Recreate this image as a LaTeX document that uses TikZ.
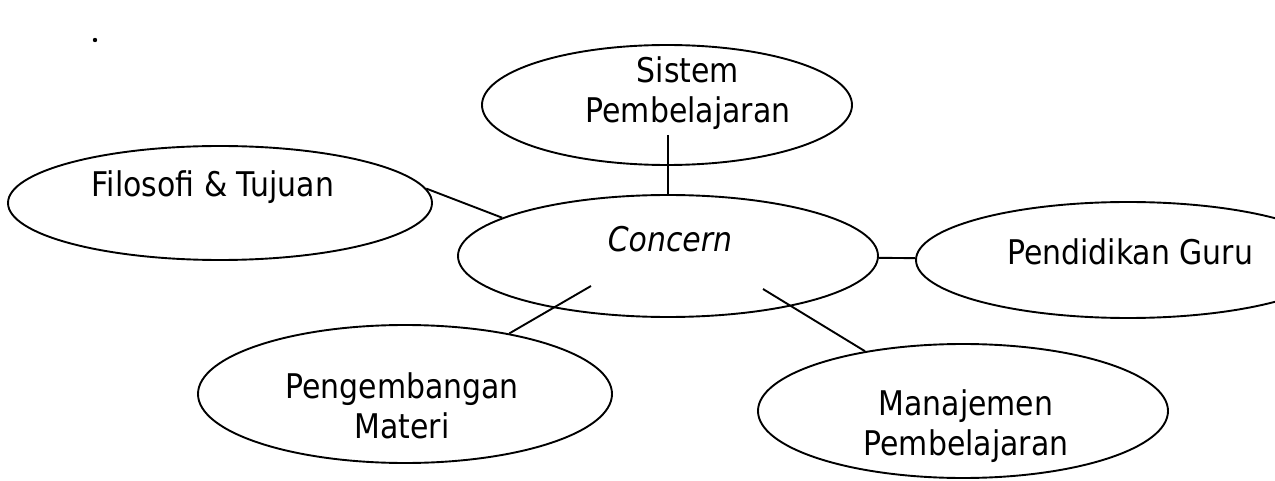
\documentclass[tikz,border=0pt]{standalone}
\usepackage{fontspec}
\setmainfont{DejaVu Sans}[FakeStretch=0.88]
\usetikzlibrary{shapes.geometric}
\begin{document}
\begin{tikzpicture}[x=1pt,y=-1pt,
  bub/.style={draw=black, line width=1.9pt, ellipse, inner sep=0pt},
  txt/.style={inner sep=0pt, align=center, font=\fontsize{34}{40}\selectfont, text=black},
  link/.style={draw=black, line width=1.9pt}]
\useasboundingbox (0,0) rectangle (1275,481);
\clip (0,0) rectangle (1275,481);
\fill[white] (0,0) rectangle (1275,481);
% bubbles
\node[bub, minimum width=370pt, minimum height=120pt] (sis) at (667,105) {};
\node[bub, minimum width=424pt, minimum height=114pt] (fil) at (220,203) {};
\node[bub, minimum width=420pt, minimum height=122pt] (con) at (668,256) {};
\node[bub, minimum width=424pt, minimum height=116pt] (pend) at (1128,260) {};
\node[bub, minimum width=414pt, minimum height=138pt] (pen) at (405,394) {};
\node[bub, minimum width=410pt, minimum height=134pt] (man) at (963,411) {};
% texts (base = baseline of the last line)
\node[txt, anchor=base] (tsis) at (688,123) {Sistem\\Pembelajaran};
\node[txt, anchor=base] (tfil) at (213,197) {Filosofi \& Tujuan};
\node[txt, anchor=base] (tcon) at (670,252) {\itshape Concern};
\node[txt, anchor=base] (tpend) at (1130,265) {Pendidikan Guru};
\node[txt, anchor=base] (tpen) at (402,438) {Pengembangan\\Materi};
\node[txt, anchor=base] (tman) at (966,455) {Manajemen\\Pembelajaran};
% connectors
\coordinate (s1) at (668,135);
\coordinate (c1) at (591,286);
\coordinate (c2) at (763,289);
\draw[link] (s1) -- (con);
\draw[link] (fil.4) -- (con.167);
\draw[link] (con) -- (pend);
\draw[link] (c1) -- (pen);
\draw[link] (c2) -- (man);
% speck
\coordinate (dot) at (95,40);
\fill[black] (dot) circle (2.2);
\end{tikzpicture}
\end{document}
